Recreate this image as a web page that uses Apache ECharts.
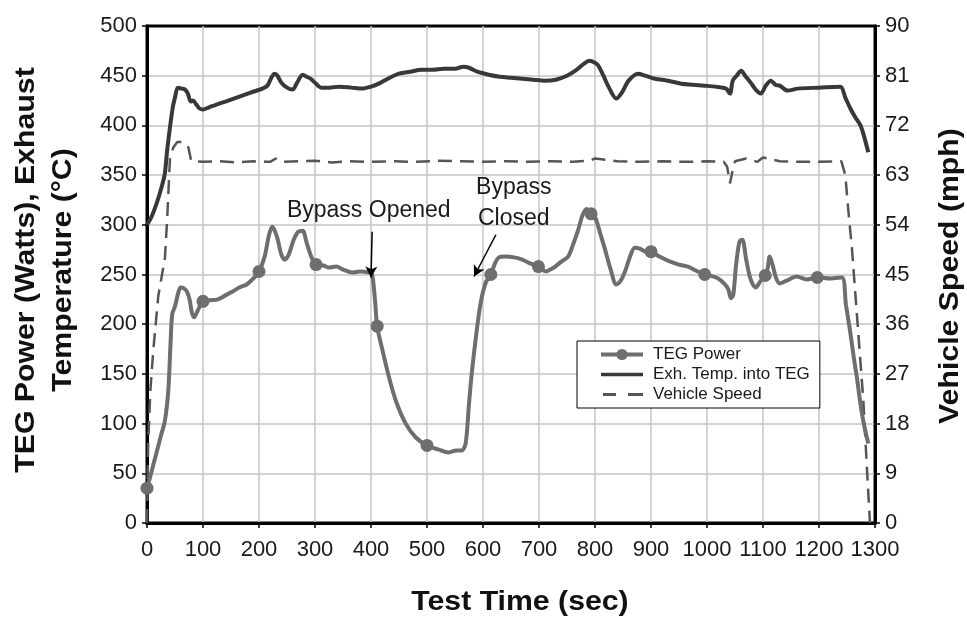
<!DOCTYPE html>
<html>
<head>
<meta charset="utf-8">
<script src="https://cdn.jsdelivr.net/npm/echarts@6/dist/echarts.min.js"></script>
<style>html,body{margin:0;padding:0;background:#fff;}#c{width:967px;height:623px;}</style>
</head>
<body>
<div id="c"></div>
<script>
// ---- data ----
var xTicks = [0,100,200,300,400,500,600,700,800,900,1000,1100,1200,1300];
var leftTicks = [0,50,100,150,200,250,300,350,400,450,500];
var rightTicks = [0,9,18,27,36,45,54,63,72,81,90];

var powerTime  = [0,5,12,18,25,32,38,42,45,50,56,60,66,71,76,80,84,90,96,100,110,127,140,153,165,178,190,200,210,218,224,232,240,246,253,262,270,278,285,294,302,315,325,338,350,367,380,397,402,407,411,420,432,445,462,480,500,520,539,552,562,569,575,580,588,596,605,614,622,628,640,658,670,681,699,713,720,729,740,752,762,770,778,785,793,800,810,818,828,838,845,853,862,871,880,891,900,915,930,950,966,980,996,1005,1020,1032,1038,1043,1047,1052,1058,1063,1070,1078,1087,1095,1104,1108,1112,1117,1123,1130,1143,1160,1178,1197,1220,1241,1248,1255,1262,1268,1274,1280,1288];
var powerValue = [35,45,60,73,88,103,133,180,210,218,232,237,236,233,225,212,207,213,220,223,224,225,229,233,237,240,246,253,268,290,298,288,270,265,270,285,293,294,282,267,260,259,257,258,255,252,253,252,250,225,198,175,147,122,100,86,78,74,71,73,73,80,120,151,190,222,242,250,262,267,268,267,265,262,258,253,255,258,263,268,282,295,310,316,311,308,290,275,255,240,243,252,267,277,276,273,273,268,264,260,258,254,250,249,246,240,235,226,230,260,283,285,265,245,237,243,249,255,268,260,247,241,244,248,245,247,246,247,220,195,167,145,120,100,80];
var powerMarkers = [0,100,200,302,411,500,614,699,793,900,996,1104,1197];

var tempTime  = [0,8,15,22,28,32,36,41,46,50,55,62,68,73,78,82,88,94,100,110,124,140,165,185,206,215,222,228,233,240,250,260,268,278,285,292,300,311,325,343,365,384,400,414,430,450,470,490,510,530,550,565,575,590,610,630,650,670,690,710,730,750,765,780,790,800,806,815,825,838,848,860,877,890,907,930,954,975,996,1015,1034,1041,1046,1053,1061,1068,1078,1087,1096,1105,1114,1122,1130,1144,1162,1200,1238,1247,1256,1265,1274,1280,1288];
var tempValue = [300,308,318,330,342,352,375,398,418,428,438,437,436,432,424,425,421,417,416,418,421,424,429,433,437,440,448,452,450,443,438,436,443,451,449,447,443,438,438,439,438,437,439,442,447,452,454,456,456,457,457,459,458,454,451,449,448,447,446,445,446,450,455,462,465,463,460,450,438,427,433,445,452,450,447,445,442,441,440,439,437,432,445,450,455,450,443,436,432,440,445,441,440,435,437,438,439,428,417,408,400,390,373];

var speedTime  = [0,2,6,11,20,32,36,41,47,54,65,74,78,80,100,130,160,190,220,230,240,270,300,330,360,400,440,480,520,560,600,640,680,720,760,790,800,840,880,920,960,1000,1030,1036,1041,1046,1050,1070,1090,1100,1130,1160,1200,1240,1247,1252,1259,1270,1279,1287,1291];
var speedValue = [0,14,24,31,41,48,55,66,68,69,69,68,66,65.5,65.4,65.5,65.3,65.5,65.4,66,65.4,65.5,65.6,65.3,65.5,65.4,65.5,65.4,65.6,65.5,65.4,65.5,65.4,65.5,65.4,65.6,66,65.5,65.4,65.5,65.4,65.5,65.4,64.5,61.5,64,65.5,66,65.4,66.2,65.5,65.4,65.4,65.5,63,57,49.5,34.6,22.4,7.3,0];

var annoOpened = {text:'Bypass Opened', at:[396,314], from:[402,293], to:[400,247]};
var annoClosed = {text:'Bypass\nClosed', at:[655,322], from:[623,290], to:[584,248]};

// ---- build ----
var FONT = "'Liberation Sans',Arial,sans-serif";

function zip(t, v){ return t.map(function(x,i){ return [x, v[i]]; }); }
var powerData = powerTime.map(function(t,i){
  var isM = powerMarkers.indexOf(t) >= 0;
  return {value:[t, powerValue[i]], symbol: isM ? 'circle' : 'none'};
});

var chart = echarts.init(document.getElementById('c'), null, {renderer:'canvas'});
var axisLabelStyle = {fontFamily:FONT, fontSize:22, color:'#1a1a1a'};
var option = {
  animation:false,
  backgroundColor:'#fff',
  grid:{left:147, right:92, top:26, bottom:100, show:true, borderColor:'#000', borderWidth:3, backgroundColor:'transparent'},
  legend:{
    orient:'vertical', left:577, top:341,
    backgroundColor:'#fff', borderColor:'#000', borderWidth:1,
    padding:[4,10,4,22], itemGap:1, itemWidth:42, itemHeight:14,
    textStyle:{fontFamily:FONT, fontSize:17, lineHeight:19, color:'#1a1a1a', padding:[0,0,0,5]},
    data:[
      {name:'TEG Power', lineStyle:{width:4}},
      {name:'Exh. Temp. into TEG', icon:'path://M0,0M42,14M0,5.2L42,5.2L42,8.8L0,8.8Z'},
      {name:'Vehicle Speed', icon:'path://M0,0M42,14M2,5.6L15,5.6L15,8.4L2,8.4ZM27,5.6L42,5.6L42,8.4L27,8.4Z'}
    ]
  },
  xAxis:{
    type:'value', min:0, max:1300, interval:100,
    axisLine:{show:true, lineStyle:{color:'#000', width:3}},
    axisTick:{show:true, inside:false, length:5, lineStyle:{color:'#000', width:1.5}},
    axisLabel:Object.assign({margin:16, hideOverlap:false, showMaxLabel:true, formatter:function(v){return xTicks.indexOf(v)>=0?String(v):'';}}, axisLabelStyle),
    splitLine:{show:true, showMinLine:false, showMaxLine:false, lineStyle:{color:'#c4c4c4', width:1.5}}
  },
  yAxis:[{
    type:'value', min:0, max:500, interval:50, position:'left',
    axisLine:{show:true, lineStyle:{color:'#000', width:3}},
    axisTick:{show:true, inside:false, length:5, lineStyle:{color:'#000', width:1.5}},
    axisLabel:Object.assign({margin:10, formatter:function(v){return leftTicks.indexOf(v)>=0?String(v):'';}}, axisLabelStyle),
    splitLine:{show:true, showMinLine:false, showMaxLine:false, lineStyle:{color:'#c4c4c4', width:1.5}}
  },{
    type:'value', min:0, max:90, interval:9, position:'right',
    axisLine:{show:true, lineStyle:{color:'#000', width:3}},
    axisTick:{show:true, inside:false, length:5, lineStyle:{color:'#000', width:1.5}},
    axisLabel:Object.assign({margin:10, formatter:function(v){return rightTicks.indexOf(v)>=0?String(v):'';}}, axisLabelStyle),
    splitLine:{show:false}
  }],
  series:[{
    name:'Vehicle Speed', type:'line', yAxisIndex:1, data:zip(speedTime, speedValue),
    showSymbol:false, symbol:'none', z:2,
    lineStyle:{color:'#555', width:2.5, type:[14,8]}, itemStyle:{color:'#555'}
  },{
    name:'Exh. Temp. into TEG', type:'line', yAxisIndex:0, data:zip(tempTime, tempValue),
    showSymbol:false, symbol:'none', smooth:0.3, z:3,
    lineStyle:{color:'#383838', width:4}, itemStyle:{color:'#383838'}
  },{
    name:'TEG Power', type:'line', yAxisIndex:0, data:powerData,
    symbol:'circle', symbolSize:13, showSymbol:true, showAllSymbol:true, smooth:0.3, z:4,
    lineStyle:{color:'#6e6e6e', width:4}, itemStyle:{color:'#6e6e6e'},
    markLine:{
      silent:true, symbol:['none','arrow'], symbolSize:[9,11],
      lineStyle:{color:'#000', width:1.5, type:'solid'}, label:{show:false},
      data:[
        [{coord:annoOpened.from},{coord:annoOpened.to}],
        [{coord:annoClosed.from},{coord:annoClosed.to}]
      ]
    },
    markPoint:{
      silent:true, symbol:'circle', symbolSize:0,
      label:{show:true, position:'inside', fontFamily:FONT, fontSize:23, lineHeight:31, color:'#1a1a1a'},
      data:[
        {coord:annoOpened.at, label:{formatter:annoOpened.text}},
        {coord:annoClosed.at, label:{formatter:annoClosed.text}}
      ]
    }
  }],
  graphic:[
    {type:'text', x:45, y:270, rotation:Math.PI/2, scaleX:1.12,
      style:{text:'TEG Power (Watts), Exhaust\nTemperature (°C)', font:'bold 27px '+FONT, fill:'#111', align:'center', verticalAlign:'middle', lineHeight:37}},
    {type:'text', x:951, y:276, rotation:Math.PI/2, scaleX:1.12,
      style:{text:'Vehicle Speed (mph)', font:'bold 27px '+FONT, fill:'#111', align:'center', verticalAlign:'middle'}},
    {type:'text', x:520, y:603, scaleX:1.12,
      style:{text:'Test Time (sec)', font:'bold 27px '+FONT, fill:'#111', align:'center', verticalAlign:'middle'}}
  ]
};
chart.setOption(option);
</script>
</body>
</html>
